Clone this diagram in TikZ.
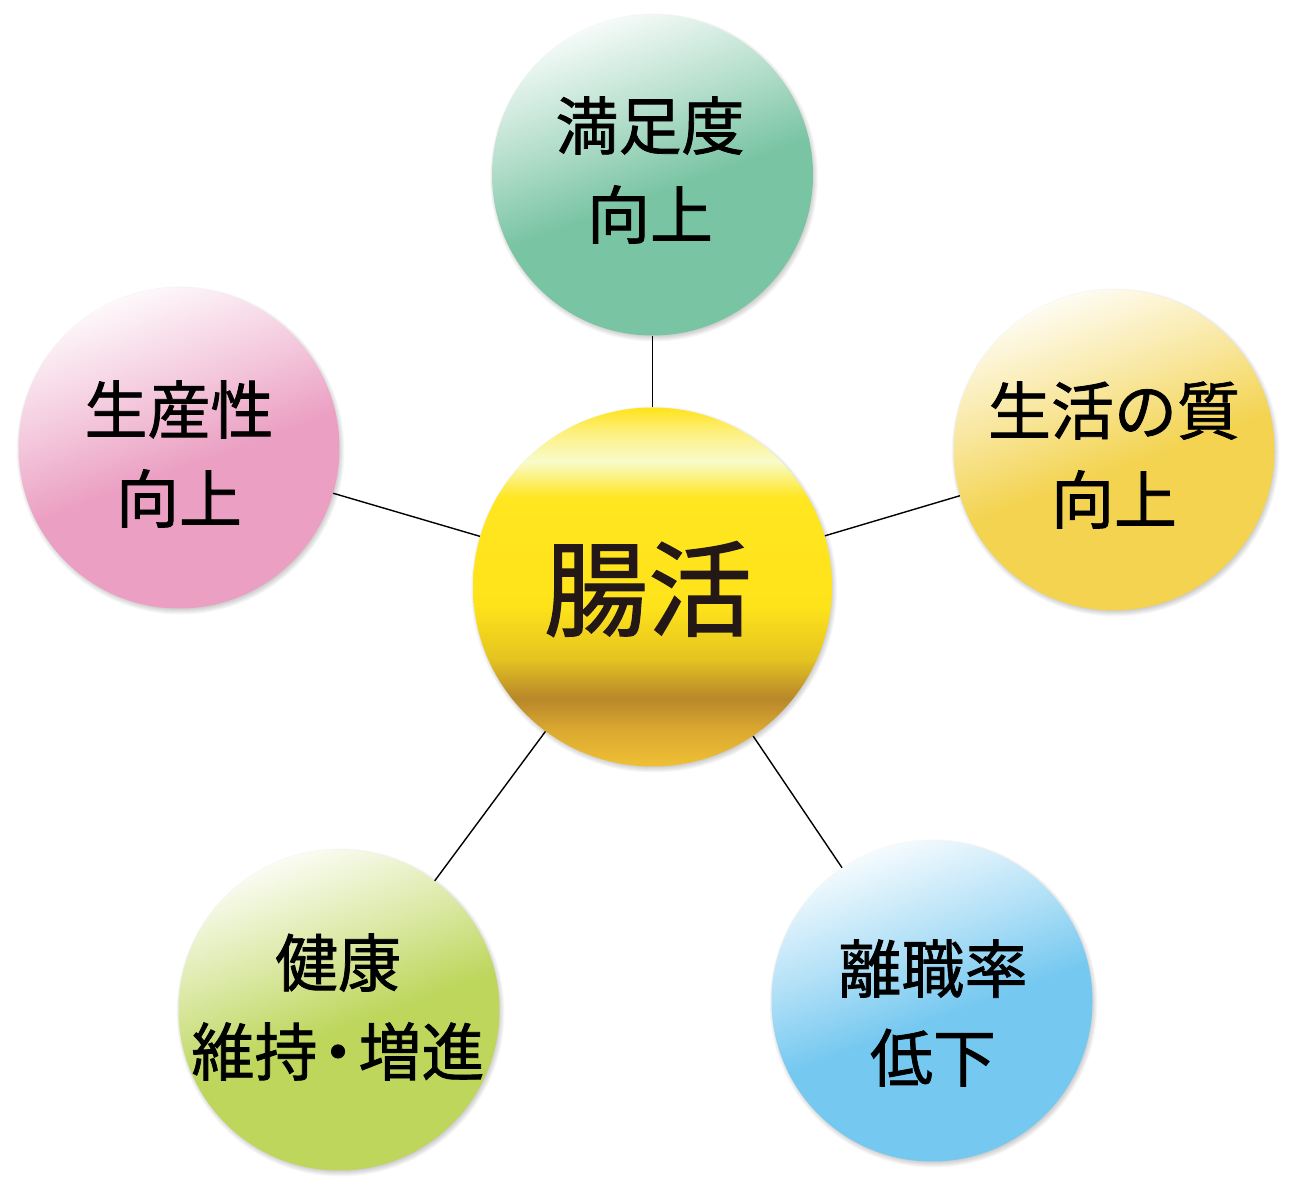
\documentclass[tikz,border=0pt]{standalone}
\usepackage{fontspec}
\newfontfamily\cjk{Noto Sans CJK JP}[FakeBold=1.2]
\usetikzlibrary{backgrounds}

\definecolor{gbase}{HTML}{79C4A3}
\definecolor{pbase}{HTML}{EBA0C3}
\definecolor{ybase}{HTML}{F3D350}
\definecolor{lbase}{HTML}{BDD65B}
\definecolor{bbase}{HTML}{75C8F0}
\definecolor{txtdark}{HTML}{231815}
\definecolor{au1}{HTML}{EFC035}
\definecolor{au2}{HTML}{DCA930}
\definecolor{au3}{HTML}{B8872A}
\definecolor{au4}{HTML}{E4C420}
\definecolor{au5}{HTML}{FFE31A}
\definecolor{au6}{HTML}{FFE620}
\definecolor{au7}{HTML}{F8FBCB}
\definecolor{au8}{HTML}{FDF080}

\newcommand{\orbshading}[2]{%
  \pgfdeclareverticalshading{#1}{100bp}{%
    color(0bp)=(#2); color(47bp)=(#2); color(60bp)=(#2!55!white);
    color(75bp)=(#2!8!white); color(100bp)=(#2!8!white)}}
\orbshading{orbG}{gbase}
\orbshading{orbP}{pbase}
\orbshading{orbY}{ybase}
\orbshading{orbL}{lbase}
\orbshading{orbB}{bbase}
\pgfdeclareverticalshading{orbGold}{100bp}{%
  color(0bp)=(au1); color(25bp)=(au1); color(30bp)=(au2); color(34.5bp)=(au3);
  color(40bp)=(au4); color(47.5bp)=(au5); color(62.5bp)=(au6); color(67.5bp)=(au7);
  color(71.5bp)=(au8); color(75bp)=(au5); color(100bp)=(au5)}

\newcommand{\halo}[2]{% node name, radius
  \foreach \k in {0,1,...,7}{%
    \fill[black, opacity=0.03] ([shift={(1.5pt,-2.5pt)}]#1.center) circle ({#2+\k});}}

\tikzset{
  orb/.style={circle, minimum size=321pt, inner sep=0pt, shading angle=20},
  hub/.style={circle, minimum size=359pt, inner sep=0pt, shading=orbGold},
  lbl/.style={font=\cjk\fontsize{63}{89}\selectfont, align=center, text=black, inner sep=0pt},
  hublbl/.style={font=\cjk\fontsize{104}{120}\selectfont, text=txtdark, inner sep=0pt},
  link/.style={line width=1.4pt, black}
}

\begin{document}
\begin{tikzpicture}[x=1pt,y=1pt]
\useasboundingbox (0,0) rectangle (1294,1194);

\node[hub] (c) at (652.5,607) {};
\node[orb, shading=orbG] (t) at (652.5,1019) {};
\node[orb, shading=orbP] (l) at (179,746) {};
\node[orb, shading=orbY] (r) at (1114,744) {};
\node[orb, shading=orbL] (bl) at (339,184) {};
\node[orb, shading=orbB] (br) at (932,193) {};

\begin{scope}[on background layer]
  \fill[white] (0,0) rectangle (1294,1194);
  \draw[link] (c) -- (t);
  \draw[link] (c) -- (l);
  \draw[link] (c) -- (r);
  \draw[link] (c) -- (bl);
  \draw[link] (c) -- (br);
  \halo{c}{176}
  \halo{t}{157}
  \halo{l}{157}
  \halo{r}{157}
  \halo{bl}{157}
  \halo{br}{157}
\end{scope}

\node[hublbl] (ct) at (648,605) {腸活};
\node[lbl] (tt) at (650,1024) {満足度\\向上};
\node[lbl] (lt) at (179,740) {生産性\\向上};
\node[lbl] (rt) at (1114,739) {生活の質\\向上};
\node[lbl] (blt) at (338,187) {健康\\維持\kern-11pt・\kern-11pt 増進};
\node[lbl] (brt) at (933,181) {離職率\\低下};
\end{tikzpicture}
\end{document}
